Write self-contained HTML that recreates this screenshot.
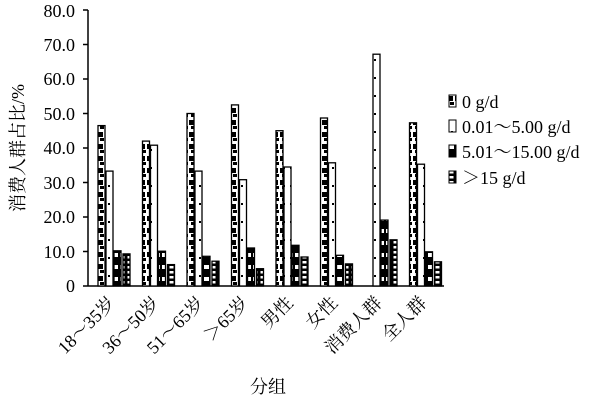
<!DOCTYPE html><html><head><style>body{margin:0;background:#fff}</style></head><body>
<svg width="611" height="401" xmlns="http://www.w3.org/2000/svg" font-family="Liberation Serif, Noto Serif CJK SC, serif">
<defs>
<pattern id="p0" width="7" height="12" patternUnits="userSpaceOnUse"><rect width="7" height="12" fill="#fff"/><rect x="0" y="0" width="5" height="5" fill="#000"/><rect x="2" y="6" width="4" height="3" fill="#000"/></pattern>
<pattern id="p1" width="7" height="18" patternUnits="userSpaceOnUse"><rect width="7" height="18" fill="#fff"/><rect x="3" y="5" width="2" height="2" fill="#000"/></pattern>
<pattern id="p2" width="7" height="12" patternUnits="userSpaceOnUse"><rect width="7" height="12" fill="#000"/><rect x="1" y="1" width="5" height="4" fill="#fff"/></pattern>
<pattern id="p3" width="7" height="5" patternUnits="userSpaceOnUse"><rect width="7" height="5" fill="#000"/><rect x="1.5" y="1" width="4" height="2.5" fill="#fff"/></pattern>
</defs>
<g font-size="18" text-anchor="end">
<text x="75" y="292">0</text><text x="75" y="258">10.0</text><text x="75" y="223">20.0</text><text x="75" y="189">30.0</text><text x="75" y="154">40.0</text><text x="75" y="120">50.0</text><text x="75" y="85">60.0</text><text x="75" y="51">70.0</text><text x="75" y="17">80.0</text>
</g>
<g stroke="#000" stroke-width="1.5">
<line x1="88" y1="10" x2="88" y2="286"/><line x1="88" y1="286" x2="444" y2="286"/>
<line x1="83" y1="286" x2="88" y2="286"/><line x1="83" y1="251.5" x2="88" y2="251.5"/><line x1="83" y1="217" x2="88" y2="217"/><line x1="83" y1="182.5" x2="88" y2="182.5"/><line x1="83" y1="148" x2="88" y2="148"/><line x1="83" y1="113.5" x2="88" y2="113.5"/><line x1="83" y1="79" x2="88" y2="79"/><line x1="83" y1="44.5" x2="88" y2="44.5"/><line x1="83" y1="10" x2="88" y2="10"/>
</g>
<g stroke="#000" stroke-width="1.3">
<rect x="98" y="125.6" width="7" height="160.4" fill="url(#p0)"/><rect x="106" y="171.1" width="7" height="114.9" fill="url(#p1)"/><rect x="114" y="250.8" width="7" height="35.2" fill="url(#p2)"/><rect x="123" y="253.9" width="7" height="32.1" fill="url(#p3)"/>
<rect x="142.5" y="141.1" width="7" height="144.9" fill="url(#p0)"/><rect x="150.5" y="145.2" width="7" height="140.8" fill="url(#p1)"/><rect x="158.5" y="251.2" width="7" height="34.8" fill="url(#p2)"/><rect x="167.5" y="264.6" width="7" height="21.4" fill="url(#p3)"/>
<rect x="187" y="113.5" width="7" height="172.5" fill="url(#p0)"/><rect x="195" y="171.1" width="7" height="114.9" fill="url(#p1)"/><rect x="203" y="256.3" width="7" height="29.7" fill="url(#p2)"/><rect x="212" y="261.2" width="7" height="24.8" fill="url(#p3)"/>
<rect x="231.5" y="104.9" width="7" height="181.1" fill="url(#p0)"/><rect x="239.5" y="179.7" width="7" height="106.3" fill="url(#p1)"/><rect x="247.5" y="248" width="7" height="38" fill="url(#p2)"/><rect x="256.5" y="268.7" width="7" height="17.3" fill="url(#p3)"/>
<rect x="276" y="130.7" width="7" height="155.3" fill="url(#p0)"/><rect x="284" y="167" width="7" height="119" fill="url(#p1)"/><rect x="292" y="245.3" width="7" height="40.7" fill="url(#p2)"/><rect x="301" y="257" width="7" height="29" fill="url(#p3)"/>
<rect x="320.5" y="118" width="7" height="168" fill="url(#p0)"/><rect x="328.5" y="162.8" width="7" height="123.2" fill="url(#p1)"/><rect x="336.5" y="255.3" width="7" height="30.7" fill="url(#p2)"/><rect x="345.5" y="263.9" width="7" height="22.1" fill="url(#p3)"/>
<rect x="373" y="54.2" width="7" height="231.8" fill="url(#p1)"/><rect x="381" y="220.1" width="7" height="65.9" fill="url(#p2)"/><rect x="390" y="239.8" width="7" height="46.2" fill="url(#p3)"/>
<rect x="409.5" y="122.8" width="7" height="163.2" fill="url(#p0)"/><rect x="417.5" y="164.2" width="7" height="121.8" fill="url(#p1)"/><rect x="425.5" y="251.8" width="7" height="34.2" fill="url(#p2)"/><rect x="434.5" y="261.8" width="7" height="24.2" fill="url(#p3)"/>
</g>
<text transform="translate(24,148) rotate(-90)" font-size="18" text-anchor="middle">消费人群占比/%</text>
<text x="268" y="393" font-size="18" text-anchor="middle">分组</text>
<g font-size="18" text-anchor="end">
<text transform="translate(116,304) rotate(-45)">18～35岁</text>
<text transform="translate(160.5,304) rotate(-45)">36～50岁</text>
<text transform="translate(205,304) rotate(-45)">51～65岁</text>
<text transform="translate(249.5,304) rotate(-45)">＞65岁</text>
<text transform="translate(294,304) rotate(-45)">男性</text>
<text transform="translate(338.5,304) rotate(-45)">女性</text>
<text transform="translate(383,304) rotate(-45)">消费人群</text>
<text transform="translate(427.5,304) rotate(-45)">全人群</text>
</g>
<g font-size="18">
<rect x="449" y="95" width="7" height="12" fill="url(#p0)" stroke="#000"/><text x="462" y="108">0 g/d</text>
<rect x="449" y="120" width="7" height="12" fill="url(#p1)" stroke="#000"/><text x="462" y="133">0.01～5.00 g/d</text>
<rect x="449" y="145" width="7" height="12" fill="url(#p2)" stroke="#000"/><text x="462" y="158">5.01～15.00 g/d</text>
<rect x="449" y="171" width="7" height="12" fill="url(#p3)" stroke="#000"/><text x="462" y="184">＞15 g/d</text>
</g>
</svg></body></html>
